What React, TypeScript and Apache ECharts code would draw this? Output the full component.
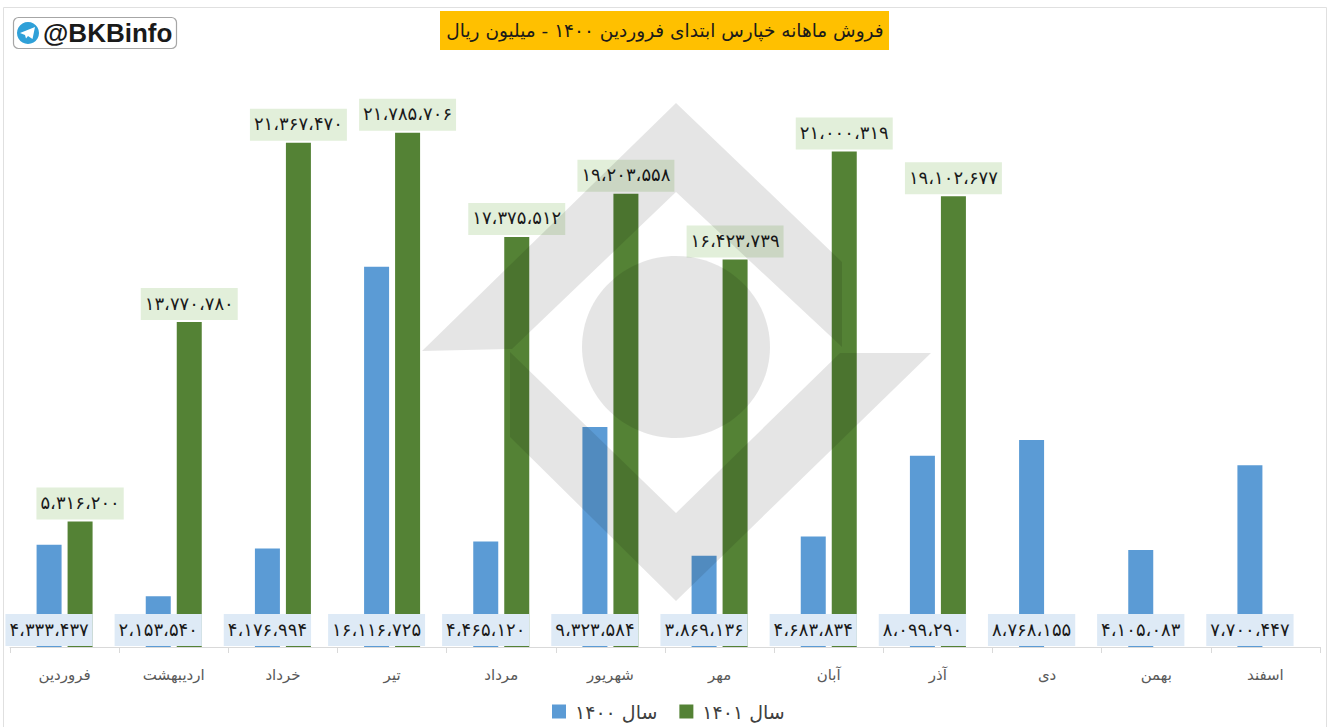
import React, { useEffect, useRef } from "react";
import * as echarts from "echarts";

const months = ["فروردین", "اردیبهشت", "خرداد", "تیر", "مرداد", "شهریور", "مهر", "آبان", "آذر", "دی", "بهمن", "اسفند"];
const sales1400 = [4333437, 2153540, 4176994, 16116725, 4465120, 9323584, 3869136, 4683834, 8099290, 8768155, 4105083, 7700447];
const sales1401 = [5316200, 13770780, 21367470, 21785706, 17375512, 19203558, 16423739, 21000319, 19102677, null, null, null];
const seriesNames = ["سال ۱۴۰۰", "سال ۱۴۰۱"];
const titleText = "فروش ماهانه خپارس ابتدای فروردین ۱۴۰۰ - میلیون ریال";
const handle = "@BKBinfo";

const FONT = "'DejaVu Sans', 'Noto Sans', sans-serif";
const toFa = (v: number) =>
  Math.round(v)
    .toString()
    .replace(/\B(?=(\d{3})+(?!\d))/g, "،")
    .replace(/\d/g, (d) => "۰۱۲۳۴۵۶۷۸۹"[Number(d)]);

const W = 100;
const wm = "rgba(0,0,0,0.1)";

export default function App() {
  const ref = useRef<HTMLDivElement>(null);
  useEffect(() => {
    const chart = echarts.init(ref.current!, undefined, { renderer: "svg" });
    chart.setOption({
      animation: false,
      backgroundColor: "#ffffff",
      title: {
        text: titleText,
        left: 665,
        textAlign: "center",
        top: 19,
        padding: 0,
        textStyle: { fontFamily: FONT, fontSize: 18.5, fontWeight: "normal", color: "#1a1a1a", lineHeight: 22 },
        z: 6,
      },
      legend: {
        top: 702,
        left: 552,
        itemWidth: 14,
        itemHeight: 14,
        itemGap: 22,
        padding: 0,
        icon: "rect",
        textStyle: { fontFamily: FONT, fontSize: 19, color: "#404040", padding: [0, 0, 0, 4], lineHeight: 18 },
        data: seriesNames,
      },
      grid: { left: 10, right: 10, top: 57, bottom: 80, containLabel: false },
      xAxis: {
        type: "category",
        data: months,
        axisLine: { lineStyle: { color: "#d9d9d9", width: 1 } },
        axisTick: { show: true, length: 6, lineStyle: { color: "#d9d9d9" }, alignWithLabel: false },
        axisLabel: { fontFamily: FONT, fontSize: 15, color: "#595959", margin: 20, interval: 0 },
      },
      yAxis: { type: "value", min: 0, max: 25000000, show: false, splitLine: { show: false } },
      series: [
        {
          name: seriesNames[0],
          type: "bar",
          data: sales1400,
          barWidth: 25,
          barGap: "24%",
          itemStyle: { color: "#5b9bd5" },
          label: {
            show: true,
            position: "insideBottom",
            distance: 1,
            formatter: (p: any) => toFa(p.value),
            fontFamily: FONT,
            fontSize: 18,
            color: "#1a1a1a",
            backgroundColor: "#deeaf6",
            padding: [6, 4, 8, 4],
            lineHeight: 18,
          },
        },
        {
          name: seriesNames[1],
          type: "bar",
          data: sales1401,
          barWidth: 25,
          itemStyle: { color: "#548235" },
          label: {
            show: true,
            position: "top",
            distance: 2,
            formatter: (p: any) => toFa(p.value),
            fontFamily: FONT,
            fontSize: 18,
            color: "#1a1a1a",
            backgroundColor: "#e2efda",
            padding: [6, 4, 8, 4],
            lineHeight: 18,
          },
        },
      ],
      graphic: [
        { type: "rect", z: 0, silent: true, shape: { x: 3.5, y: 7.5, width: 1323, height: 730 }, style: { fill: "none", stroke: "#e0e0e0", lineWidth: 1 } },
        { type: "rect", z: 1, silent: true, shape: { x: 440, y: 11, width: 449, height: 39 }, style: { fill: "#ffc000" } },
        { type: "rect", z: 1, silent: true, shape: { x: 13.5, y: 17.5, width: 163, height: 31, r: 5 }, style: { fill: "#ffffff", stroke: "#a6a6a6", lineWidth: 1.2 } },
        { type: "circle", z: 2, silent: true, shape: { cx: 28, cy: 33, r: 11 }, style: { fill: "#2fa0d8" } },
        { type: "polygon", z: 3, silent: true, shape: { points: [[20, 33], [35, 27], [32.5, 39], [28, 36], [26, 38.5], [25, 35]] }, style: { fill: "#ffffff" } },
        { type: "text", z: 3, silent: true, x: 43, y: 33, style: { text: handle, fontFamily: "'Liberation Sans', Arial, sans-serif", fontWeight: "bold", fontSize: 26, fill: "#1a1a1a", textVerticalAlign: "middle", textAlign: "left" } },
        { type: "polygon", z: W, silent: true, shape: { points: [[676, 103], [842, 262], [842, 347], [676, 192], [512, 349], [422, 351]] }, style: { fill: wm } },
        { type: "polygon", z: W, silent: true, shape: { points: [[510, 352], [676, 513], [840, 353], [931, 353], [676, 601], [510, 437]] }, style: { fill: wm } },
        { type: "ellipse", z: W, silent: true, shape: { cx: 676, cy: 347, rx: 94, ry: 91 }, style: { fill: wm } },
      ],
    });
    return () => chart.dispose();
  }, []);
  return <div ref={ref} style={{ position: "fixed", left: 0, top: 0, width: 1330, height: 727 }} />;
}
